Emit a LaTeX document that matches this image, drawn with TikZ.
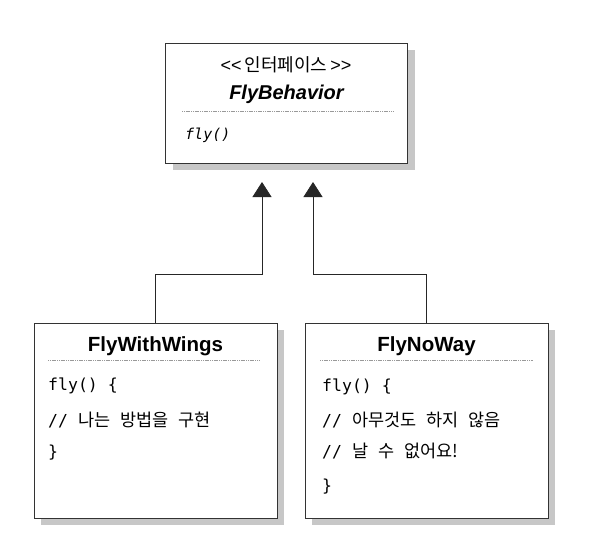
\documentclass[tikz,border=0pt]{standalone}
\usepackage{fontspec}
\setmainfont{Liberation Sans}
\newfontfamily\krf{Noto Sans CJK KR}
\newfontfamily\monof{DejaVu Sans Mono}
\usetikzlibrary{arrows.meta,shadows}
\newcommand\kw[1]{{\krf\fontsize{17.5}{20}\selectfont #1}}
\tikzset{
  umlbox/.style={draw=black!80, line width=0.8pt, fill=white, inner sep=0pt,
    minimum width=243pt, minimum height=195pt,
    general shadow={fill=black!22, shadow xshift=7pt, shadow yshift=-7pt}},
  sepline/.style={draw=black!40, line width=0.6pt, dash pattern=on 1.2pt off 0.6pt},
  conn/.style={draw=black!85, line width=0.8pt, -{Triangle[length=15pt,width=19pt]}},
  titletxt/.style={anchor=base, inner sep=0pt, font=\fontsize{20.5}{24}\selectfont\bfseries},
  codetxt/.style={anchor=base west, inner sep=0pt, font=\fontsize{16.5}{19}\selectfont\monof},
}
\begin{document}
\begin{tikzpicture}[x=1pt,y=-1pt]
\useasboundingbox[fill=white] (0,0) rectangle (602,558);

% interface box
\node[umlbox, minimum width=242pt, minimum height=120pt] (fb) at (286.5,103) {};
\node[anchor=base, inner sep=0pt, font=\fontsize{18}{21}\selectfont] (st) at (286,71) {<{}<\,{\krf 인터페이스}\,>{}>};
\node[anchor=base, inner sep=0pt, font=\fontsize{20}{24}\selectfont\bfseries\itshape] (fbn) at (286.5,99) {FlyBehavior};
\draw[sepline] (182,111) -- (393,111);
\node[anchor=base west, inner sep=0pt, font=\fontsize{15}{17}\selectfont\monof\itshape] (fbm) at (185,139) {fly()};

% FlyWithWings
\node[umlbox] (fw) at (155.5,420.5) {};
\node[titletxt] (fwn) at (155.5,351) {FlyWithWings};
\draw[sepline] (48,360) -- (260,360);
\node[codetxt] (fw1) at (48,390) {fly() \{};
\node[codetxt] (fw2) at (48,426) {// \kw{나는} \kw{방법을} \kw{구현}};
\node[codetxt] (fw3) at (48,457) {\}};

% FlyNoWay
\node[umlbox] (fn) at (426.5,420.5) {};
\node[titletxt] (fnn) at (426.5,351) {FlyNoWay};
\draw[sepline] (320,360) -- (533,360);
\node[codetxt] (fn1) at (322,391) {fly() \{};
\node[codetxt] (fn2) at (322,426) {// \kw{아무것도} \kw{하지} \kw{않음}};
\node[codetxt] (fn3) at (322,457) {// \kw{날} \kw{수} \kw{없어요!}};
\node[codetxt] (fn4) at (322,491) {\}};

% connectors
\coordinate (tipL) at (262,182);
\coordinate (tipR) at (313,182);
\draw[conn] (fw.north) -- ++(0,-48) -| (tipL);
\draw[conn] (fn.north) -- ++(0,-48) -| (tipR);
\end{tikzpicture}
\end{document}
